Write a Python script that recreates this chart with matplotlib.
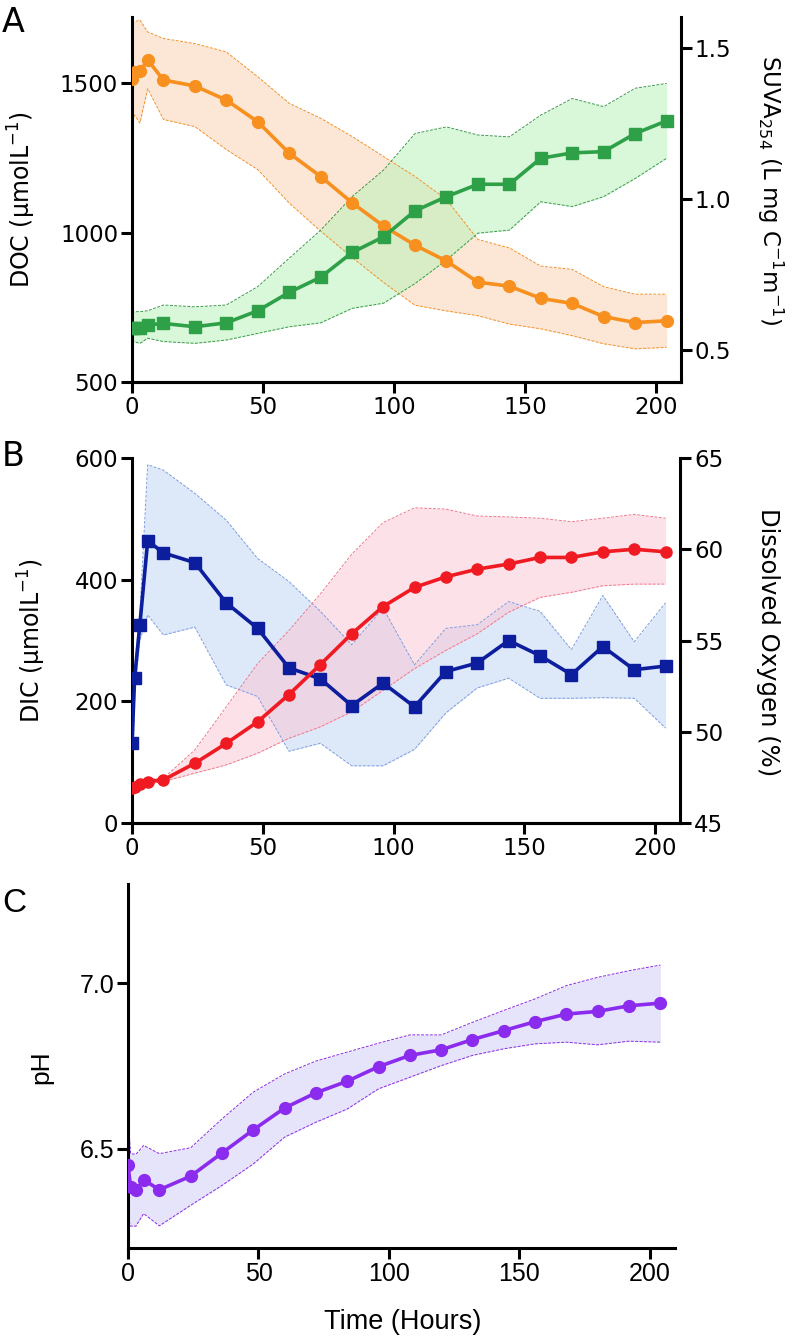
import matplotlib
matplotlib.use('Agg')
import matplotlib.pyplot as plt

# sampling times (hours)
hours = [0, 1, 3, 6, 12, 24, 36, 48, 60, 72, 84, 96, 108, 120, 132, 144, 156, 168, 180, 192, 204]

# panel A: DOC (left axis) and SUVA254 (right axis)
doc = [1516, 1538, 1540, 1578, 1511, 1491, 1444, 1371, 1266, 1188, 1100, 1022, 958, 905, 834, 821, 780, 763, 719, 699, 705]
doc_hi = [1700, 1706, 1712, 1672, 1650, 1633, 1605, 1522, 1433, 1383, 1322, 1255, 1188, 1111, 977, 949, 888, 877, 819, 794, 794]
doc_lo = [1361, 1394, 1367, 1482, 1379, 1355, 1278, 1211, 1099, 1005, 917, 833, 757, 738, 722, 694, 678, 655, 628, 611, 616]

suva = [0.572, 0.572, 0.574, 0.583, 0.588, 0.577, 0.590, 0.630, 0.691, 0.741, 0.823, 0.875, 0.961, 1.008, 1.049, 1.049, 1.135, 1.153, 1.157, 1.217, 1.259]
suva_hi = [0.622, 0.627, 0.627, 0.630, 0.649, 0.643, 0.649, 0.710, 0.804, 0.897, 1.008, 1.096, 1.217, 1.239, 1.212, 1.206, 1.278, 1.333, 1.306, 1.367, 1.383]
suva_lo = [0.533, 0.527, 0.522, 0.539, 0.528, 0.522, 0.533, 0.555, 0.577, 0.590, 0.638, 0.655, 0.720, 0.798, 0.887, 0.897, 0.991, 0.975, 1.008, 1.068, 1.135]

# panel B: DIC (left axis) and dissolved oxygen (right axis)
dic = [131, 238, 326, 464, 444, 428, 362, 320, 255, 237, 193, 230, 191, 249, 263, 300, 275, 244, 290, 252, 258]
dic_hi = [140, 255, 345, 589, 580, 542, 498, 435, 397, 348, 293, 353, 260, 320, 326, 364, 348, 285, 374, 298, 362]
dic_lo = [0, 215, 300, 342, 309, 322, 227, 208, 118, 131, 94, 94, 121, 181, 222, 238, 205, 205, 206, 205, 156]

do_pct = [46.94, 46.95, 47.14, 47.27, 47.36, 48.27, 49.36, 50.54, 52.04, 53.68, 55.37, 56.86, 57.91, 58.49, 58.91, 59.19, 59.55, 59.55, 59.86, 60.0, 59.86]
do_hi = [47.0, 47.05, 47.25, 47.4, 47.45, 49.0, 51.36, 53.73, 55.55, 57.55, 59.73, 61.46, 62.27, 62.2, 61.82, 61.77, 61.7, 61.51, 61.7, 61.91, 61.7]
do_lo = [46.88, 46.85, 47.03, 47.14, 47.27, 47.73, 48.18, 48.82, 49.64, 50.27, 51.09, 52.27, 53.46, 54.46, 55.37, 56.55, 57.36, 57.64, 58.0, 58.09, 58.09]

# panel C: pH
ph = [6.450, 6.384, 6.374, 6.406, 6.376, 6.417, 6.487, 6.557, 6.623, 6.669, 6.704, 6.748, 6.782, 6.799, 6.830, 6.857, 6.884, 6.907, 6.915, 6.932, 6.940]
ph_hi = [6.60, 6.485, 6.483, 6.51, 6.485, 6.503, 6.59, 6.671, 6.726, 6.765, 6.792, 6.819, 6.844, 6.844, 6.882, 6.918, 6.953, 6.993, 7.018, 7.038, 7.055]
ph_lo = [6.294, 6.266, 6.266, 6.304, 6.267, 6.329, 6.389, 6.454, 6.535, 6.580, 6.620, 6.681, 6.716, 6.751, 6.782, 6.802, 6.817, 6.822, 6.814, 6.825, 6.822]

W, H = 799, 1338
plt.rcParams['font.family'] = ['DejaVu Sans']
plt.rcParams['mathtext.fontset'] = 'dejavusans'

fig = plt.figure(figsize=(W / 100, H / 100), dpi=100)

SP = 2.2   # spine width


def box(left, top, right, bottom):
    return [left / W, 1 - bottom / H, (right - left) / W, (bottom - top) / H]


def style(ax, sides, size=16.5):
    for s in ['top', 'right', 'left', 'bottom']:
        ax.spines[s].set_visible(s in sides)
        ax.spines[s].set_linewidth(SP)
    ax.tick_params(direction='out', length=8, width=SP, labelsize=size, pad=2)


def band(ax, lo, hi, fill, edge, tr=None):
    kw = {} if tr is None else {'transform': tr}
    ax.fill_between(hours, lo, hi, color=fill, alpha=0.5, lw=0, zorder=1, **kw)
    for e in (lo, hi):
        ax.plot(hours, e, color=edge, lw=0.7, dashes=(3, 1.5), zorder=2, **kw)


def ftext(x, y, s, **kw):
    fig.text(x / W, 1 - y / H, s, ha='center', va='center', **kw)


# ---------------- A ----------------
axA = fig.add_axes(box(132, 17, 681, 382))
axA2 = axA.twinx()
style(axA, ['left', 'bottom'])
style(axA2, ['right', 'bottom'])
axA.set_xlim(0, 209.5)
axA.set_ylim(500, 1722)
axA2.set_ylim(0.394, 1.603)
band(axA, doc_lo, doc_hi, '#FBD0B0', '#F2922A')
band(axA, suva_lo, suva_hi, '#B5F3B5', '#3A9A4A', tr=axA2.transData)
axA.plot(hours, doc, color='#F7901E', lw=2.6, marker='o', ms=8.5, zorder=4)
axA.plot(hours, suva, color='#2EA048', lw=2.6, marker='s', ms=8, zorder=4,
         transform=axA2.transData)
axA.set_xticks([0, 50, 100, 150, 200])
axA.set_yticks([500, 1000, 1500])
axA2.set_yticks([0.5, 1.0, 1.5])

# ---------------- B ----------------
axB = fig.add_axes(box(132, 458, 680, 823))
axB2 = axB.twinx()
style(axB, ['left', 'bottom'])
style(axB2, ['right', 'bottom'])
axB.set_xlim(0, 209.5)
axB.set_ylim(0, 600)
axB2.set_ylim(45, 65)
band(axB, dic_lo, dic_hi, '#BCD3F3', '#7E9EE0')
band(axB, do_lo, do_hi, '#FBC4D2', '#EE7A8C', tr=axB2.transData)
axB.plot(hours, dic, color='#0C1E9E', lw=2.6, marker='s', ms=8.5, zorder=4)
axB.plot(hours, do_pct, color='#F01A22', lw=2.6, marker='o', ms=8, zorder=4,
         transform=axB2.transData)
axB.set_xticks([0, 50, 100, 150, 200])
axB.set_yticks([0, 200, 400, 600])
axB2.set_yticks([45, 50, 55, 60, 65])

# ---------------- C ----------------
axC = fig.add_axes(box(128, 884, 675, 1248))
style(axC, ['left', 'bottom'], size=18)
axC.set_xlim(0, 209.6)
axC.set_ylim(6.2, 7.3)
band(axC, ph_lo, ph_hi, '#CDCAF6', '#8A2BE2')
axC.plot(hours, ph, color='#8B2BEE', lw=2.6, marker='o', ms=8.5, zorder=4)
axC.set_xticks([0, 50, 100, 150, 200])
axC.set_yticks([6.5, 7.0])
for lab in axC.get_xticklabels() + axC.get_yticklabels():
    lab.set_fontfamily('Liberation Sans')

# ---------------- texts ----------------
ftext(13, 23, 'A', fontsize=24)
ftext(13, 457, 'B', fontsize=24)
ftext(14, 904, 'C', fontsize=24, family='Liberation Sans')

ftext(22, 200, 'DOC (\u00b5molL$^{-1}$)', fontsize=17, rotation=90)
ftext(770, 190, 'SUVA$_{254}$ (L mg C$^{-1}$m$^{-1}$)', fontsize=16.5, rotation=270)
ftext(32, 640, 'DIC (\u00b5molL$^{-1}$)', fontsize=17, rotation=90)
ftext(768, 642, 'Dissolved Oxygen (%)', fontsize=17.5, rotation=270)
ftext(41, 1067, 'pH', fontsize=19, rotation=90, family='Liberation Sans')
ftext(403, 1322, 'Time (Hours)', fontsize=19.5, family='Liberation Sans')

fig.savefig('out.png', dpi=100)
